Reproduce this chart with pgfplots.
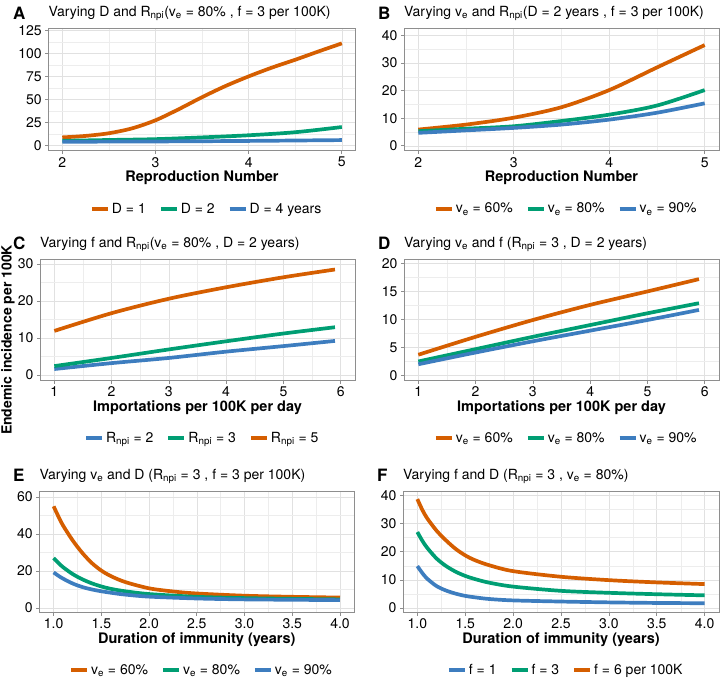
\documentclass[border=0pt]{standalone}
\usepackage{fontspec}
\setmainfont{TeX Gyre Heros}
\usepackage{pgfplots}
\pgfplotsset{compat=1.18}

\definecolor{cOr}{HTML}{D55E00}
\definecolor{cGr}{HTML}{009E73}
\definecolor{cBl}{HTML}{3D7DBF}
\definecolor{border}{HTML}{8E8E8E}
\definecolor{gmaj}{HTML}{E1E1E1}
\definecolor{gmin}{HTML}{EDEDED}

\newcommand{\sub}[1]{\textsubscript{#1}}

\pgfplotsset{
  panel/.style={
    scale only axis, anchor=north west,
    axis line style={draw=border, line width=0.8pt},
    tick align=outside, tick pos=left,
    major tick length=3pt, minor tick length=0pt,
    tick style={draw=border, line width=0.7pt},
    minor tick num=1, grid=both,
    major grid style={draw=gmaj, line width=0.6pt},
    minor grid style={draw=gmin, line width=0.4pt},
    ticklabel style={font=\fontsize{14}{14}\selectfont, text=black},
    /pgf/number format/assume math mode=true,
    xlabel style={font=\bfseries\fontsize{14.5}{14.5}\selectfont,
                  at={(0.5,0)}, anchor=center, yshift=-27pt},
    legend columns=3,
    legend style={draw=none, fill=none, at={(0.515,-0.475)}, anchor=center,
                  font=\fontsize{14}{14}\selectfont,
                  /tikz/every even column/.append style={column sep=11pt}},
    legend image code/.code={\draw[##1, line width=4pt] (0pt,0pt) -- (16pt,0pt);},
    every axis plot/.append style={line width=3.7pt, no marks, line join=round, smooth, tension=0.5},
  },
}
\tikzset{
  ttl/.style={anchor=base west, inner sep=0pt, font=\fontsize{14}{14}\selectfont},
  lett/.style={anchor=base west, inner sep=0pt, font=\bfseries\fontsize{17}{17}\selectfont},
}

\begin{document}
\begin{tikzpicture}
\useasboundingbox (0,0) rectangle (722pt,-681pt);

% ---------- A ----------
\begin{axis}[panel, at={(48.3pt,-28.5pt)}, width=307.5pt, height=122.2pt,
  xmin=1.85, xmax=5.15, ymin=-5.4, ymax=126.8,
  xtick={2,3,4,5}, ytick={0,25,50,75,100,125},
  xlabel={Reproduction Number}]
\addplot[cOr] coordinates {(2,9) (2.25,10.6) (2.5,13.5) (2.75,18.8) (3,27.5) (3.25,39.5) (3.5,52.5) (3.75,64.5) (4,75) (4.25,84.5) (4.5,93) (4.75,102) (5,110.7)};
\addlegendentry{D = 1}
\addplot[cGr] coordinates {(2,5.3) (2.5,6.2) (3,7.1) (3.5,9.0) (4,11.3) (4.5,14.6) (5,20.2)};
\addlegendentry{D = 2}
\addplot[cBl] coordinates {(2,4.3) (3,4.6) (4,5.2) (5,6.1)};
\addlegendentry{D = 4 years}
\end{axis}
\node[lett] at (13pt,-19pt) {A};
\node[ttl] at (48.3pt,-16.3pt) {Varying D and R\sub{npi}(v\sub{e} = 80\% , f = 3 per 100K)};

% ---------- B ----------
\begin{axis}[panel, at={(404pt,-28.8pt)}, width=315pt, height=122pt,
  xmin=1.85, xmax=5.15, ymin=-1.8, ymax=42.4,
  xtick={2,3,4,5}, ytick={0,10,20,30,40},
  xlabel={Reproduction Number}]
\addplot[cOr] coordinates {(2,5.9) (2.5,7.7) (3,10.2) (3.5,14) (4,20.2) (4.5,28.4) (5,36.5)};
\addlegendentry{v\sub{e} = 60\%}
\addplot[cGr] coordinates {(2,5.3) (2.5,6.2) (3,7.1) (3.5,9.0) (4,11.3) (4.5,14.6) (5,20.2)};
\addlegendentry{v\sub{e} = 80\%}
\addplot[cBl] coordinates {(2,4.7) (2.5,5.6) (3,6.5) (3.5,7.7) (4,9.5) (4.5,12) (5,15.4)};
\addlegendentry{v\sub{e} = 90\%}
\end{axis}
\node[lett] at (378pt,-19pt) {B};
\node[ttl] at (404pt,-16.4pt) {Varying v\sub{e} and R\sub{npi}(D = 2 years , f = 3 per 100K)};

% ---------- C ----------
\begin{axis}[panel, at={(40pt,-259.5pt)}, width=315pt, height=121pt,
  xmin=0.75, xmax=6.25, ymin=-1.5, ymax=31.2,
  xtick={1,2,3,4,5,6}, ytick={0,10,20,30},
  xlabel={Importations per 100K per day}]
\addplot[cBl] coordinates {(1,1.6) (2,3.2) (3,4.6) (4,6.3) (5,7.8) (5.9,9.2)};
\addlegendentry{R\sub{npi} = 2}
\addplot[cGr] coordinates {(1,2.4) (2,4.6) (3,6.9) (4,9.1) (5,11.2) (5.9,12.9)};
\addlegendentry{R\sub{npi} = 3}
\addplot[cOr] coordinates {(1,11.9) (2,16.7) (3,20.6) (4,23.7) (5,26.4) (5.9,28.5)};
\addlegendentry{R\sub{npi} = 5}
\end{axis}
\node[lett] at (13pt,-249.5pt) {C};
\node[ttl] at (40pt,-247.1pt) {Varying f and R\sub{npi}(v\sub{e} = 80\% , D = 2 years)};

% ---------- D ----------
\begin{axis}[panel, at={(404pt,-259.5pt)}, width=315pt, height=121pt,
  xmin=0.75, xmax=6.25, ymin=-0.9, ymax=20.7,
  xtick={1,2,3,4,5,6}, ytick={0,5,10,15,20},
  xlabel={Importations per 100K per day}]
\addplot[cOr] coordinates {(1,3.7) (2,6.9) (3,9.9) (4,12.6) (5,15) (5.9,17.2)};
\addlegendentry{v\sub{e} = 60\%}
\addplot[cGr] coordinates {(1,2.5) (2,4.7) (3,6.9) (4,9.0) (5,11.1) (5.9,12.9)};
\addlegendentry{v\sub{e} = 80\%}
\addplot[cBl] coordinates {(1,2.0) (2,4.1) (3,6.1) (4,8.0) (5,9.9) (5.9,11.7)};
\addlegendentry{v\sub{e} = 90\%}
\end{axis}
\node[lett] at (378pt,-249.5pt) {D};
\node[ttl] at (404pt,-247.1pt) {Varying v\sub{e} and f (R\sub{npi} = 3 , D = 2 years)};

% ---------- E ----------
\begin{axis}[panel, at={(39.3pt,-491.5pt)}, width=315pt, height=121pt,
  xmin=0.85, xmax=4.15, ymin=-2.5, ymax=63,
  xtick={1,1.5,2,2.5,3,3.5,4}, ytick={0,20,40,60},
  xticklabel style={/pgf/number format/.cd, fixed, fixed zerofill, precision=1},
  xlabel={Duration of immunity (years)}]
\addplot[cOr] coordinates {(1,55) (1.05,49.5) (1.1,44.5) (1.2,36.5) (1.3,29.8) (1.4,24.3) (1.5,20.2) (1.6,17.2) (1.75,14) (2,10.6) (2.25,8.9) (2.5,7.8) (3,6.6) (3.5,6.0) (4,5.6)};
\addlegendentry{v\sub{e} = 60\%}
\addplot[cGr] coordinates {(1,27) (1.05,24.3) (1.1,22) (1.2,18.3) (1.3,15.5) (1.4,13.3) (1.5,11.6) (1.6,10.3) (1.75,9) (2,7.5) (2.5,6.0) (3,5.3) (3.5,4.9) (4,4.6)};
\addlegendentry{v\sub{e} = 80\%}
\addplot[cBl] coordinates {(1,19.2) (1.05,17.4) (1.1,15.8) (1.2,13.2) (1.3,11.3) (1.4,10) (1.5,9) (1.6,8.2) (1.75,7.2) (2,6.1) (2.5,5.1) (3,4.6) (3.5,4.4) (4,4.2)};
\addlegendentry{v\sub{e} = 90\%}
\end{axis}
\node[lett] at (13pt,-481.5pt) {E};
\node[ttl] at (39.3pt,-479.1pt) {Varying v\sub{e} and D (R\sub{npi} = 3 , f = 3 per 100K)};

% ---------- F ----------
\begin{axis}[panel, at={(403pt,-491.5pt)}, width=316pt, height=121pt,
  xmin=0.85, xmax=4.15, ymin=-1.6, ymax=41.4,
  xtick={1,1.5,2,2.5,3,3.5,4}, ytick={0,10,20,30,40},
  xticklabel style={/pgf/number format/.cd, fixed, fixed zerofill, precision=1},
  xlabel={Duration of immunity (years)}]
\addplot[cBl] coordinates {(1,14.9) (1.05,12.5) (1.1,10.5) (1.2,7.8) (1.3,6.2) (1.4,5.1) (1.5,4.3) (1.6,3.8) (1.75,3.2) (2,2.7) (2.5,2.3) (3,2.0) (3.5,1.8) (4,1.7)};
\addlegendentry{f = 1}
\addplot[cGr] coordinates {(1,27) (1.05,24) (1.1,21.5) (1.2,17.6) (1.3,14.9) (1.4,12.9) (1.5,11.4) (1.6,10.3) (1.75,9.0) (2,7.6) (2.5,6.1) (3,5.4) (3.5,4.9) (4,4.5)};
\addlegendentry{f = 3}
\addplot[cOr] coordinates {(1,38.7) (1.05,35) (1.1,32) (1.2,27.5) (1.3,24) (1.4,21) (1.5,18.7) (1.6,17) (1.75,15.2) (2,13.1) (2.5,11.1) (3,9.9) (3.5,9.1) (4,8.5)};
\addlegendentry{f = 6 per 100K}
\end{axis}
\node[lett] at (377pt,-481.5pt) {F};
\node[ttl] at (403pt,-479.1pt) {Varying f and D (R\sub{npi} = 3 , v\sub{e} = 80\%)};

% shared y label
\node[rotate=90, anchor=center, font=\bfseries\fontsize{14}{14}\selectfont]
  at (8pt,-340pt) {Endemic incidence per 100K};
\end{tikzpicture}
\end{document}
